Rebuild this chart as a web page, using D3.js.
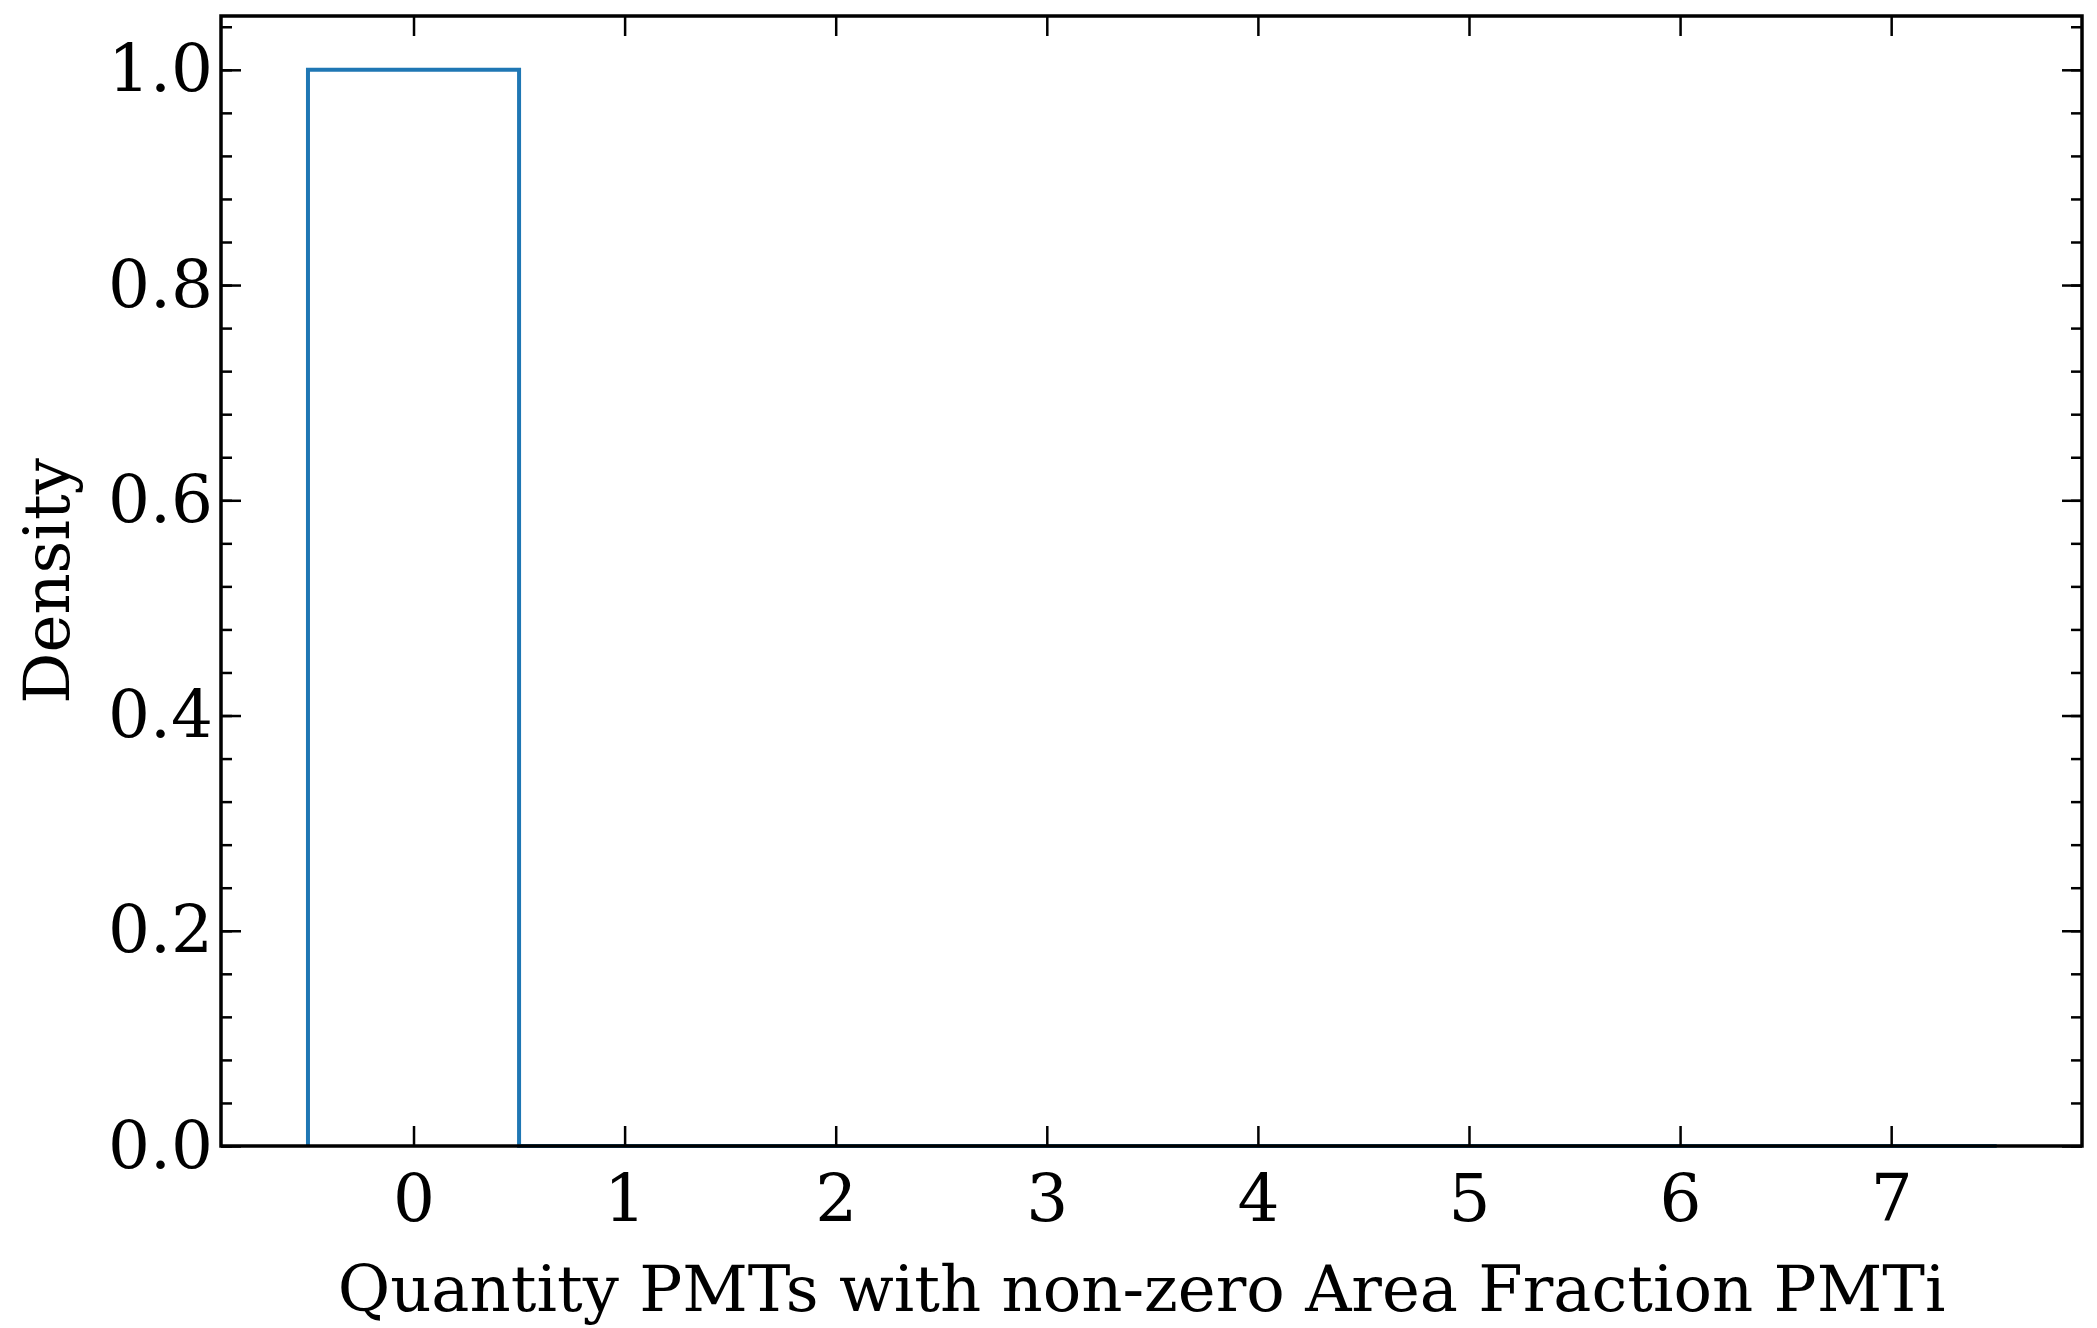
<!DOCTYPE html>
<html><head><meta charset="utf-8">
<script src="https://cdn.jsdelivr.net/npm/d3@7"></script>
<style>body{margin:0;background:#fff}text{font-family:"DejaVu Serif",serif}</style>
</head><body><div id="chart"></div>
<script>
// histogram bins (edges) and density values
const binEdges = [-0.5, 0.5, 1.5, 2.5, 3.5, 4.5, 5.5, 6.5, 7.5];
const density = [1.0, 0, 0, 0, 0, 0, 0, 0];
const xTicks = [0, 1, 2, 3, 4, 5, 6, 7];
const yTicks = [0, 0.2, 0.4, 0.6, 0.8, 1.0];

const W = 2097, H = 1328;
const m = {top: 16, right: 15, bottom: 182, left: 221};
const svg = d3.select('#chart').append('svg').attr('width', W).attr('height', H);
const g = svg.append('g').attr('transform', `translate(${m.left},${m.top})`);
const w = W - m.left - m.right, h = H - m.top - m.bottom;

const x = d3.scaleLinear().domain([-0.912, 7.904]).range([0, w]);
const y = d3.scaleLinear().domain([0, 1.05]).range([h, 0]);

// step outline of the histogram
const pts = [[binEdges[0], 0]];
density.forEach((d, i) => { pts.push([binEdges[i], d]); pts.push([binEdges[i + 1], d]); });
pts.push([binEdges[binEdges.length - 1], 0]);
g.append('path').datum(pts)
  .attr('d', d3.line().x(d => x(d[0])).y(d => y(d[1])))
  .attr('fill', 'none').attr('stroke', '#1f77b4').attr('stroke-width', 4);

const minorY = d3.range(0, 1.05, 0.04);
function styleAxis(a) {
  a.select('.domain').remove();
  a.selectAll('line').attr('stroke', '#000').attr('stroke-width', 2.5);
  a.selectAll('text').attr('font-size', 66).attr('fill', '#000');
}
g.append('g').attr('transform', `translate(0,${h})`)
  .call(d3.axisBottom(x).tickValues(xTicks).tickSize(-20).tickPadding(28).tickFormat(d3.format('d'))).call(styleAxis);
g.append('g').call(d3.axisTop(x).tickValues(xTicks).tickSize(-20).tickFormat('')).call(styleAxis);
g.append('g').call(d3.axisLeft(y).tickValues(yTicks).tickSize(-20).tickPadding(8).tickFormat(d3.format('.1f'))).call(styleAxis);
g.append('g').attr('transform', `translate(${w},0)`).call(d3.axisRight(y).tickValues(yTicks).tickSize(-20).tickFormat('')).call(styleAxis);
g.append('g').call(d3.axisLeft(y).tickValues(minorY).tickSize(-11).tickFormat('')).call(styleAxis);
g.append('g').attr('transform', `translate(${w},0)`).call(d3.axisRight(y).tickValues(minorY).tickSize(-11).tickFormat('')).call(styleAxis);

g.append('rect').attr('width', w).attr('height', h).attr('fill', 'none').attr('stroke', '#000').attr('stroke-width', 3.5);

g.append('text').attr('x', w / 2 - 10).attr('y', h + 165).attr('text-anchor', 'middle')
  .attr('font-size', 64).text('Quantity PMTs with non-zero Area Fraction PMTi');
g.append('text').attr('transform', `translate(${-152},${h / 2}) rotate(-90)`).attr('text-anchor', 'middle')
  .attr('font-size', 64).text('Density');
</script></body></html>
